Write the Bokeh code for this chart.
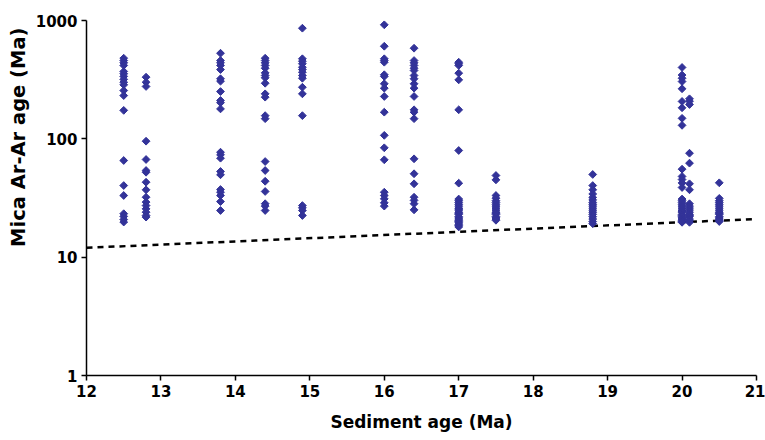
from bokeh.plotting import figure
from bokeh.models import FixedTicker, Range1d, Title
from bokeh.embed import file_html
from bokeh.resources import INLINE

# Sediment age (Ma) of each sample column and measured mica Ar-Ar ages (Ma)
age_12_5 = [480, 459, 439, 417, 371, 355, 337, 318, 301, 286, 256, 232, 174, 65.6, 40.3, 33.2, 23.3, 22.1, 20.8, 19.8]
age_12_8 = [332, 301, 277, 95.5, 66.9, 54, 52.2, 43, 37.1, 32.1, 29.2, 27.3, 25.6, 24, 22.5, 21.8]
age_13_8 = [529, 459, 439, 417, 385, 322, 307, 251, 211, 202, 179, 77.1, 73.3, 68.6, 53, 49.7, 37.3, 35.4, 33.2, 29.5, 24.8]
age_14_4 = [480, 459, 439, 417, 395, 361, 343, 328, 295, 240, 225, 157, 148, 64.3, 54, 43.8, 35.9, 28.3, 27, 24.8]
age_14_9 = [861, 475, 453, 431, 403, 385, 366, 343, 325, 273, 240, 157, 27.3, 26.1, 24.8, 22.5]
age_16_0 = [920, 606, 475, 459, 444, 348, 337, 292, 268, 228, 168, 107, 84, 66.5, 35.4, 33.2, 31.1, 28.8, 27]
age_16_4 = [583, 459, 439, 417, 395, 378, 343, 322, 292, 268, 228, 176, 168, 148, 67.8, 50.7, 41.7, 32.1, 30.2, 28.3, 25.1]
age_17_0 = [444, 431, 417, 359, 315, 176, 79.7, 42.2, 31, 30, 29, 28, 27, 26, 25.5, 25, 24, 23.5, 23, 22, 21.5, 21, 20.5, 20, 19.5, 19, 18.5, 18]
age_17_5 = [49, 45, 33.2, 31.5, 30, 29, 28, 27, 26, 25, 24, 23.5, 23, 22, 21.5, 21, 20.5]
age_18_8 = [50, 40.3, 37.1, 34.2, 32, 30.5, 29, 28, 27, 26, 25, 24, 23, 22, 21, 20, 19.2]
age_20_0 = [401, 346, 325, 305, 265, 207, 183, 149, 130, 55.4, 48.1, 45.3, 42.4, 38.8, 31, 30, 29, 28, 27, 26, 25, 24.5, 24, 23, 22.5, 22, 21.5, 21, 20.5, 20, 19.7]
age_20_1 = [218, 208, 195, 75.6, 62.3, 41.7, 37.1, 28.3, 27, 26, 25, 24, 23, 22.5, 22, 21, 20.5, 19.7]
age_20_5 = [42.5, 31.4, 30, 29, 28, 27, 26, 25, 24, 23.5, 23, 22, 21.5, 21, 20.5, 20]

sediment_ages = [12.5, 12.8, 13.8, 14.4, 14.9, 16.0, 16.4, 17.0, 17.5, 18.8, 20.0, 20.1, 20.5]
mica_groups = [age_12_5, age_12_8, age_13_8, age_14_4, age_14_9, age_16_0, age_16_4,
               age_17_0, age_17_5, age_18_8, age_20_0, age_20_1, age_20_5]

# 1:1 reference line
line_x = [12, 21]
line_y = [12, 21]

x_ticks = [12, 13, 14, 15, 16, 17, 18, 19, 20, 21]
y_ticks = [1, 10, 100, 1000]
y_tick_labels = ["1", "10", "100", "1000"]

x_title = "Sediment age (Ma)"
y_title = "Mica Ar-Ar age (Ma)"

xs, ys = [], []
for sa, grp in zip(sediment_ages, mica_groups):
    xs.extend([sa] * len(grp))
    ys.extend(grp)

p = figure(width=765, height=440, y_axis_type="log",
           x_range=Range1d(12, 21), y_range=Range1d(1, 1000),
           output_backend="svg", toolbar_location=None,
           min_border_left=86, min_border_right=9, min_border_top=20, min_border_bottom=65)

p.line(line_x, line_y, line_color="black", line_width=2.5, line_dash="6 5")
p.scatter(xs, ys, marker="square", angle=0.785398, size=5.5,
          fill_color="#333399", line_color="#333399")

FONT = "DejaVu Sans"
p.xgrid.visible = False
p.ygrid.visible = False
p.outline_line_color = None
p.background_fill_color = "white"
p.border_fill_color = "white"

p.xaxis.ticker = FixedTicker(ticks=x_ticks)
p.yaxis.ticker = FixedTicker(ticks=y_ticks)
p.yaxis.major_label_overrides = {t: l for t, l in zip(y_ticks, y_tick_labels)}

for ax in (p.xaxis[0], p.yaxis[0]):
    ax.axis_line_color = "black"
    ax.axis_line_width = 1.5
    ax.major_tick_line_color = "black"
    ax.major_tick_line_width = 1.5
    ax.major_tick_out = 5
    ax.major_tick_in = 0
    ax.minor_tick_out = 0
    ax.minor_tick_in = 0
    ax.major_label_text_font = FONT
    ax.major_label_text_font_style = "bold"
    ax.major_label_text_font_size = "15px"
    ax.major_label_text_color = "black"
    ax.axis_label_text_font = FONT
    ax.axis_label_text_font_style = "bold"
    ax.axis_label_text_color = "black"

p.xaxis.axis_label = x_title
p.xaxis.axis_label_text_font_size = "17px"
p.xaxis.major_label_standoff = 4
p.xaxis.axis_label_standoff = 12
p.yaxis.major_label_standoff = 4

# y title sits near the top of the axis in the reference
p.add_layout(Title(text=y_title, align="right", offset=7, standoff=6,
                   text_font=FONT, text_font_style="bold", text_font_size="19.5px",
                   text_color="black"), "left")

open("out.html", "w").write(file_html(p, INLINE))
